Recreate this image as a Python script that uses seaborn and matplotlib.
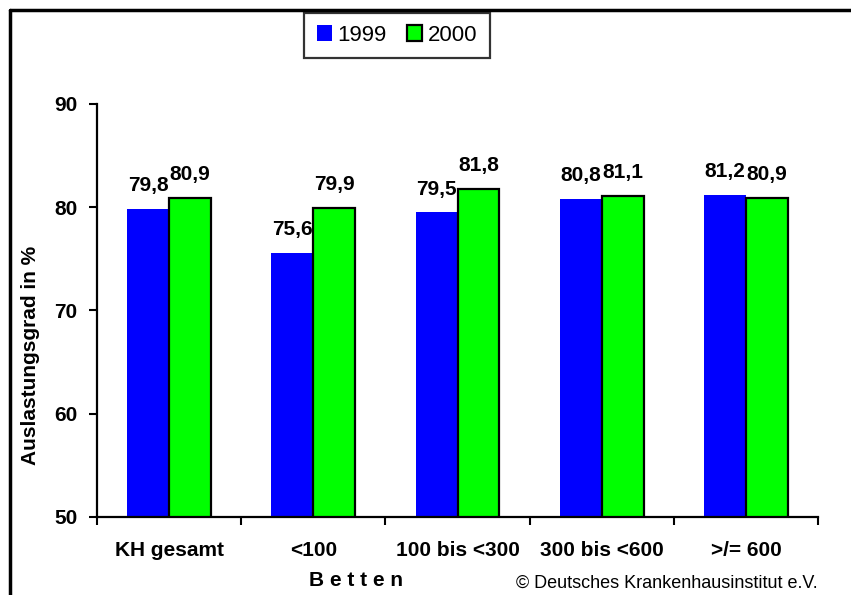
import matplotlib
matplotlib.use("Agg")
import matplotlib.pyplot as plt
from matplotlib.lines import Line2D
import pandas as pd
import seaborn as sns

categories = ["KH gesamt", "<100", "100 bis <300", "300 bis <600", ">/= 600"]
years = ["1999", "2000"]
values_1999 = [79.8, 75.6, 79.5, 80.8, 81.2]
values_2000 = [80.9, 79.9, 81.8, 81.1, 80.9]
y_ticks = [50, 60, 70, 80, 90]

sns.set_style("white")
plt.rcParams["font.family"] = ["Liberation Sans", "DejaVu Sans"]
plt.rcParams["text.color"] = "black"
plt.rcParams["axes.labelcolor"] = "black"
plt.rcParams["xtick.color"] = "black"
plt.rcParams["ytick.color"] = "black"

df = pd.DataFrame({
    "Kategorie": categories * 2,
    "Jahr": [years[0]] * len(categories) + [years[1]] * len(categories),
    "Wert": values_1999 + values_2000,
})

fig = plt.figure(figsize=(8.51, 5.95), dpi=100)
ax = fig.add_axes([97 / 851, 1 - 517 / 595, (818 - 97) / 851, (517 - 104) / 595])

sns.barplot(data=df, x="Kategorie", y="Wert", hue="Jahr", order=categories,
            hue_order=years, palette=["#0000ff", "#00ff00"], width=0.58,
            saturation=1, legend=False, ax=ax)

# blue bars without border, green bars with black border
for bar in ax.containers[0]:
    bar.set_edgecolor("#0000ff")
    bar.set_linewidth(0)
for bar in ax.containers[1]:
    bar.set_edgecolor("black")
    bar.set_linewidth(1.6)

for cont in ax.containers:
    labels = [f"{b.get_height():.1f}".replace(".", ",") for b in cont]
    ax.bar_label(cont, labels=labels, padding=10, fontsize=15, fontweight="bold")

ax.set_ylim(50, 90)
ax.set_xlim(-0.5, len(categories) - 0.5)
ax.set_yticks(y_ticks)
ax.set_xticks([i - 0.5 for i in range(len(categories) + 1)], minor=False)
ax.set_xticklabels([])
ax.set_xticks(range(len(categories)), minor=True)
ax.set_xticklabels(categories, minor=True, fontsize=15, fontweight="bold")
ax.tick_params(axis="x", which="minor", length=0, pad=17)
ax.tick_params(axis="x", which="major", direction="out", length=6, width=1.5, color="black", bottom=True)
ax.tick_params(axis="y", direction="out", length=6, width=1.5, color="black", left=True,
               labelsize=15, pad=8)
for lbl in ax.get_yticklabels():
    lbl.set_fontweight("bold")

ax.set_xlabel("")
ax.set_ylabel("Auslastungsgrad in %", fontsize=15, fontweight="bold")
ax.yaxis.set_label_coords(-0.079, 0.392)

for side in ["top", "right"]:
    ax.spines[side].set_visible(False)
for side in ["left", "bottom"]:
    ax.spines[side].set_color("black")
    ax.spines[side].set_linewidth(1.6)

fig.legend(handles=[ax.containers[0][0], ax.containers[1][0]], labels=years,
           loc="center", bbox_to_anchor=(397 / 851, 1 - 35.5 / 595), ncol=2,
           fontsize=16, frameon=True, fancybox=False, edgecolor="black",
           handlelength=0.7, handleheight=0.7, handletextpad=0.25,
           columnspacing=0.9, borderpad=0.55)
leg = fig.legends[0]
leg.get_frame().set_linewidth(1.6)

fig.text(356 / 851, 1 - 581 / 595, "B e t t e n", ha="center", va="center",
         fontsize=15, fontweight="bold")
fig.text(818 / 851, 1 - 583 / 595, "© Deutsches Krankenhausinstitut e.V.",
         ha="right", va="center", fontsize=13)

# outer frame (top and left)
fig.add_artist(Line2D([10 / 851, 1], [1 - 10 / 595, 1 - 10 / 595], color="black", lw=2.5,
                      transform=fig.transFigure))
fig.add_artist(Line2D([10 / 851, 10 / 851], [0, 1 - 10 / 595], color="black", lw=2.5,
                      transform=fig.transFigure))

fig.savefig("out.png", dpi=100)
